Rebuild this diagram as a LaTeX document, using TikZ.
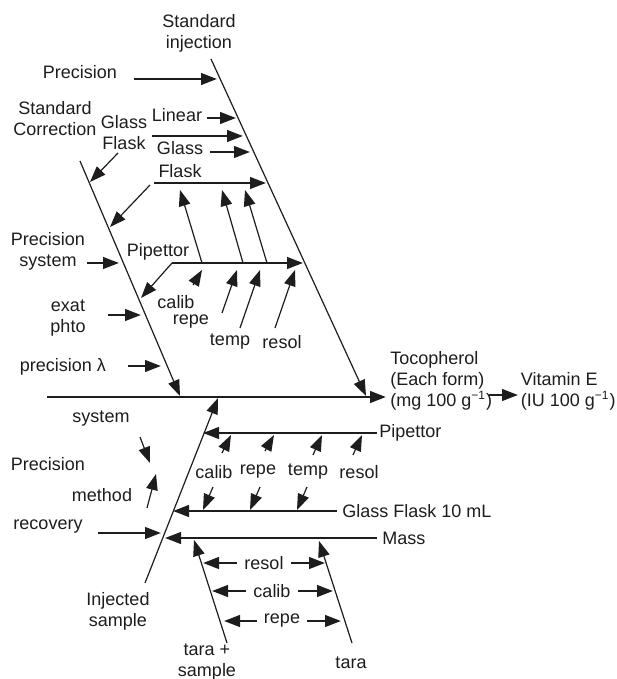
\documentclass[tikz,border=0pt]{standalone}
\usepackage{fontspec}
\setmainfont{Liberation Sans}
\usepackage{tikz}
\usetikzlibrary{
  arrows.meta,
  positioning
}
\definecolor{InkBlack}{RGB}{30,28,29}
\tikzset{
  labelnode/.style={inner sep=0pt,align=center,font=\fontsize{9}{10.5}\selectfont,text=InkBlack},
  bonearrow/.style={-{Triangle[length=8pt,width=5.8pt]},line width=0.6pt,draw=InkBlack},
  causearrow/.style={-{Triangle[length=8pt,width=5.8pt]},line width=1.2pt,draw=InkBlack},
  spinearrow/.style={-{Triangle[length=8pt,width=5.8pt]},line width=1.3pt,draw=InkBlack}
}

\begin{document}
\begin{tikzpicture}[x=0.5pt,y=-0.5pt]
\useasboundingbox (0,0) rectangle (616,679);
\node[labelnode] (stdinj) at (199,33) {Standard\\injection};
\node[labelnode] (prec1) at (80,72) {Precision};
\node[labelnode] (stdcorr) at (55,119) {Standard\\Correction};
\node[labelnode] (glfl1) at (124,133) {Glass\\Flask};
\node[labelnode] (linear) at (177,115) {Linear};
\node[labelnode] (glass2) at (180,148) {Glass};
\node[labelnode] (flask2) at (180,171) {Flask};
\node[labelnode] (pip1) at (158,252) {Pipettor};
\node[labelnode] (precsys) at (48,251) {Precision\\system};
\node[labelnode] (exat) at (68,318) {exat\\phto};
\node[labelnode] (preclam) at (63,367) {precision λ};
\node[labelnode] (calib1) at (176,302) {calib};
\node[labelnode] (repe1) at (191,322) {repe};
\node[labelnode] (temp1) at (230,342) {temp};
\node[labelnode] (resol1) at (282,342) {resol};
\node[labelnode,align=left,anchor=west] (toco) at (390,381) {Tocopherol\\(Each form)\\(mg 100 g\textsuperscript{−1})};
\node[labelnode,align=left,right=14pt of toco.south east,anchor=south west] (vite) {Vitamin E\\(IU 100 g\textsuperscript{−1})};
\node[labelnode] (sys2) at (101,419) {system};
\node[labelnode] (prec2) at (48,464) {Precision};
\node[labelnode] (method) at (102,495) {method};
\node[labelnode] (recov) at (48,527) {recovery};
\node[labelnode,anchor=west,inner sep=1pt] (pip2) at (377,433) {Pipettor};
\node[labelnode] (calib2) at (214,472) {calib};
\node[labelnode] (repe2) at (258,472) {repe};
\node[labelnode] (temp2) at (308,472) {temp};
\node[labelnode] (resol2) at (359,472) {resol};
\node[labelnode,anchor=west,inner sep=2.5pt] (glfl2) at (337,511) {Glass Flask 10 mL};
\node[labelnode,anchor=west,inner sep=2.5pt] (mass) at (377,538) {Mass};
\node[labelnode,inner sep=3.5pt] (resol3) at (264,563) {resol};
\node[labelnode,inner sep=3.5pt] (calib3) at (272,591) {calib};
\node[labelnode,inner sep=3.5pt] (repe3) at (282,621) {repe};
\node[labelnode] (injs) at (118,611) {Injected\\sample};
\node[labelnode] (tarasam) at (207,662) {tara +\\sample};
\node[labelnode] (tara) at (351,663) {tara};

\foreach \n/\x/\y in {sp1/47/397,sp2/386/397,tv1/489/395,tv2/518/395,
  si1/211/59,si2/366/396,sc1/80/161,sc2/180/396,is1/145/583,is2/218/398,
  ts1/227/643,ts2/194/540,ta1/352/643,ta2/319/541}
  \coordinate (\n) at (\x,\y);
\draw[spinearrow] (sp1) -- (sp2);
\draw[causearrow] (tv1) -- (tv2);
\foreach \a/\b in {si1/si2,sc1/sc2,is1/is2,ts1/ts2,ta1/ta2}
  \draw[bonearrow] (\a) -- (\b);

\foreach \n/\xa/\xb/\y in {pr/134/217/79,li/207/236/118,gf/152/243/136,gl/210/250/152,
  fl/154/266/183,pu/172/303/263,ps/87/119/263,ex/108/141/315,pl/128/161/366,rc/98/161/533}
{
  \coordinate (\n a) at (\xa,\y);
  \coordinate (\n b) at (\xb,\y);
  \draw[causearrow] (\n a) -- (\n b);
}
\foreach \n/\xa/\ya/\xb/\yb in {u1/202/263/180/190,u2/243/263/222/190,u3/267/263/245/190,
  c1/118/153/90/182,c2/150/185/110/227,c3/172/263/141/298,
  p1/193/285/202/270,p2/222/313/237/270,p3/240/328/260/270,p4/275/328/295/270,
  s1/140/437/150/463,m1/147/508/156/474,
  q1/222/453/231/435,q2/265/451/274/435,q3/313/455/322/435,q4/353/455/362/435,
  g1/213/487/203/510,g2/260/487/250/510,g3/307/487/297/510}
{
  \coordinate (\n a) at (\xa,\ya);
  \coordinate (\n b) at (\xb,\yb);
  \draw[bonearrow] (\n a) -- (\n b);
}

\coordinate (pipL) at (203,433);
\coordinate (glfL) at (173,511);
\coordinate (masL) at (165,538);
\draw[causearrow] (pip2.west) -- (pipL);
\draw[causearrow] (glfl2.west) -- (glfL);
\draw[causearrow] (mass.west) -- (masL);

\coordinate (rsL) at (203,563); \coordinate (rsR) at (325,563);
\coordinate (caL) at (212,591); \coordinate (caR) at (333,591);
\coordinate (reL) at (224,621); \coordinate (reR) at (341,621);
\draw[causearrow] (resol3.west) -- (rsL);
\draw[causearrow] (resol3.east) -- (rsR);
\draw[causearrow] (calib3.west) -- (caL);
\draw[causearrow] (calib3.east) -- (caR);
\draw[causearrow] (repe3.west) -- (reL);
\draw[causearrow] (repe3.east) -- (reR);
\end{tikzpicture}
\end{document}
